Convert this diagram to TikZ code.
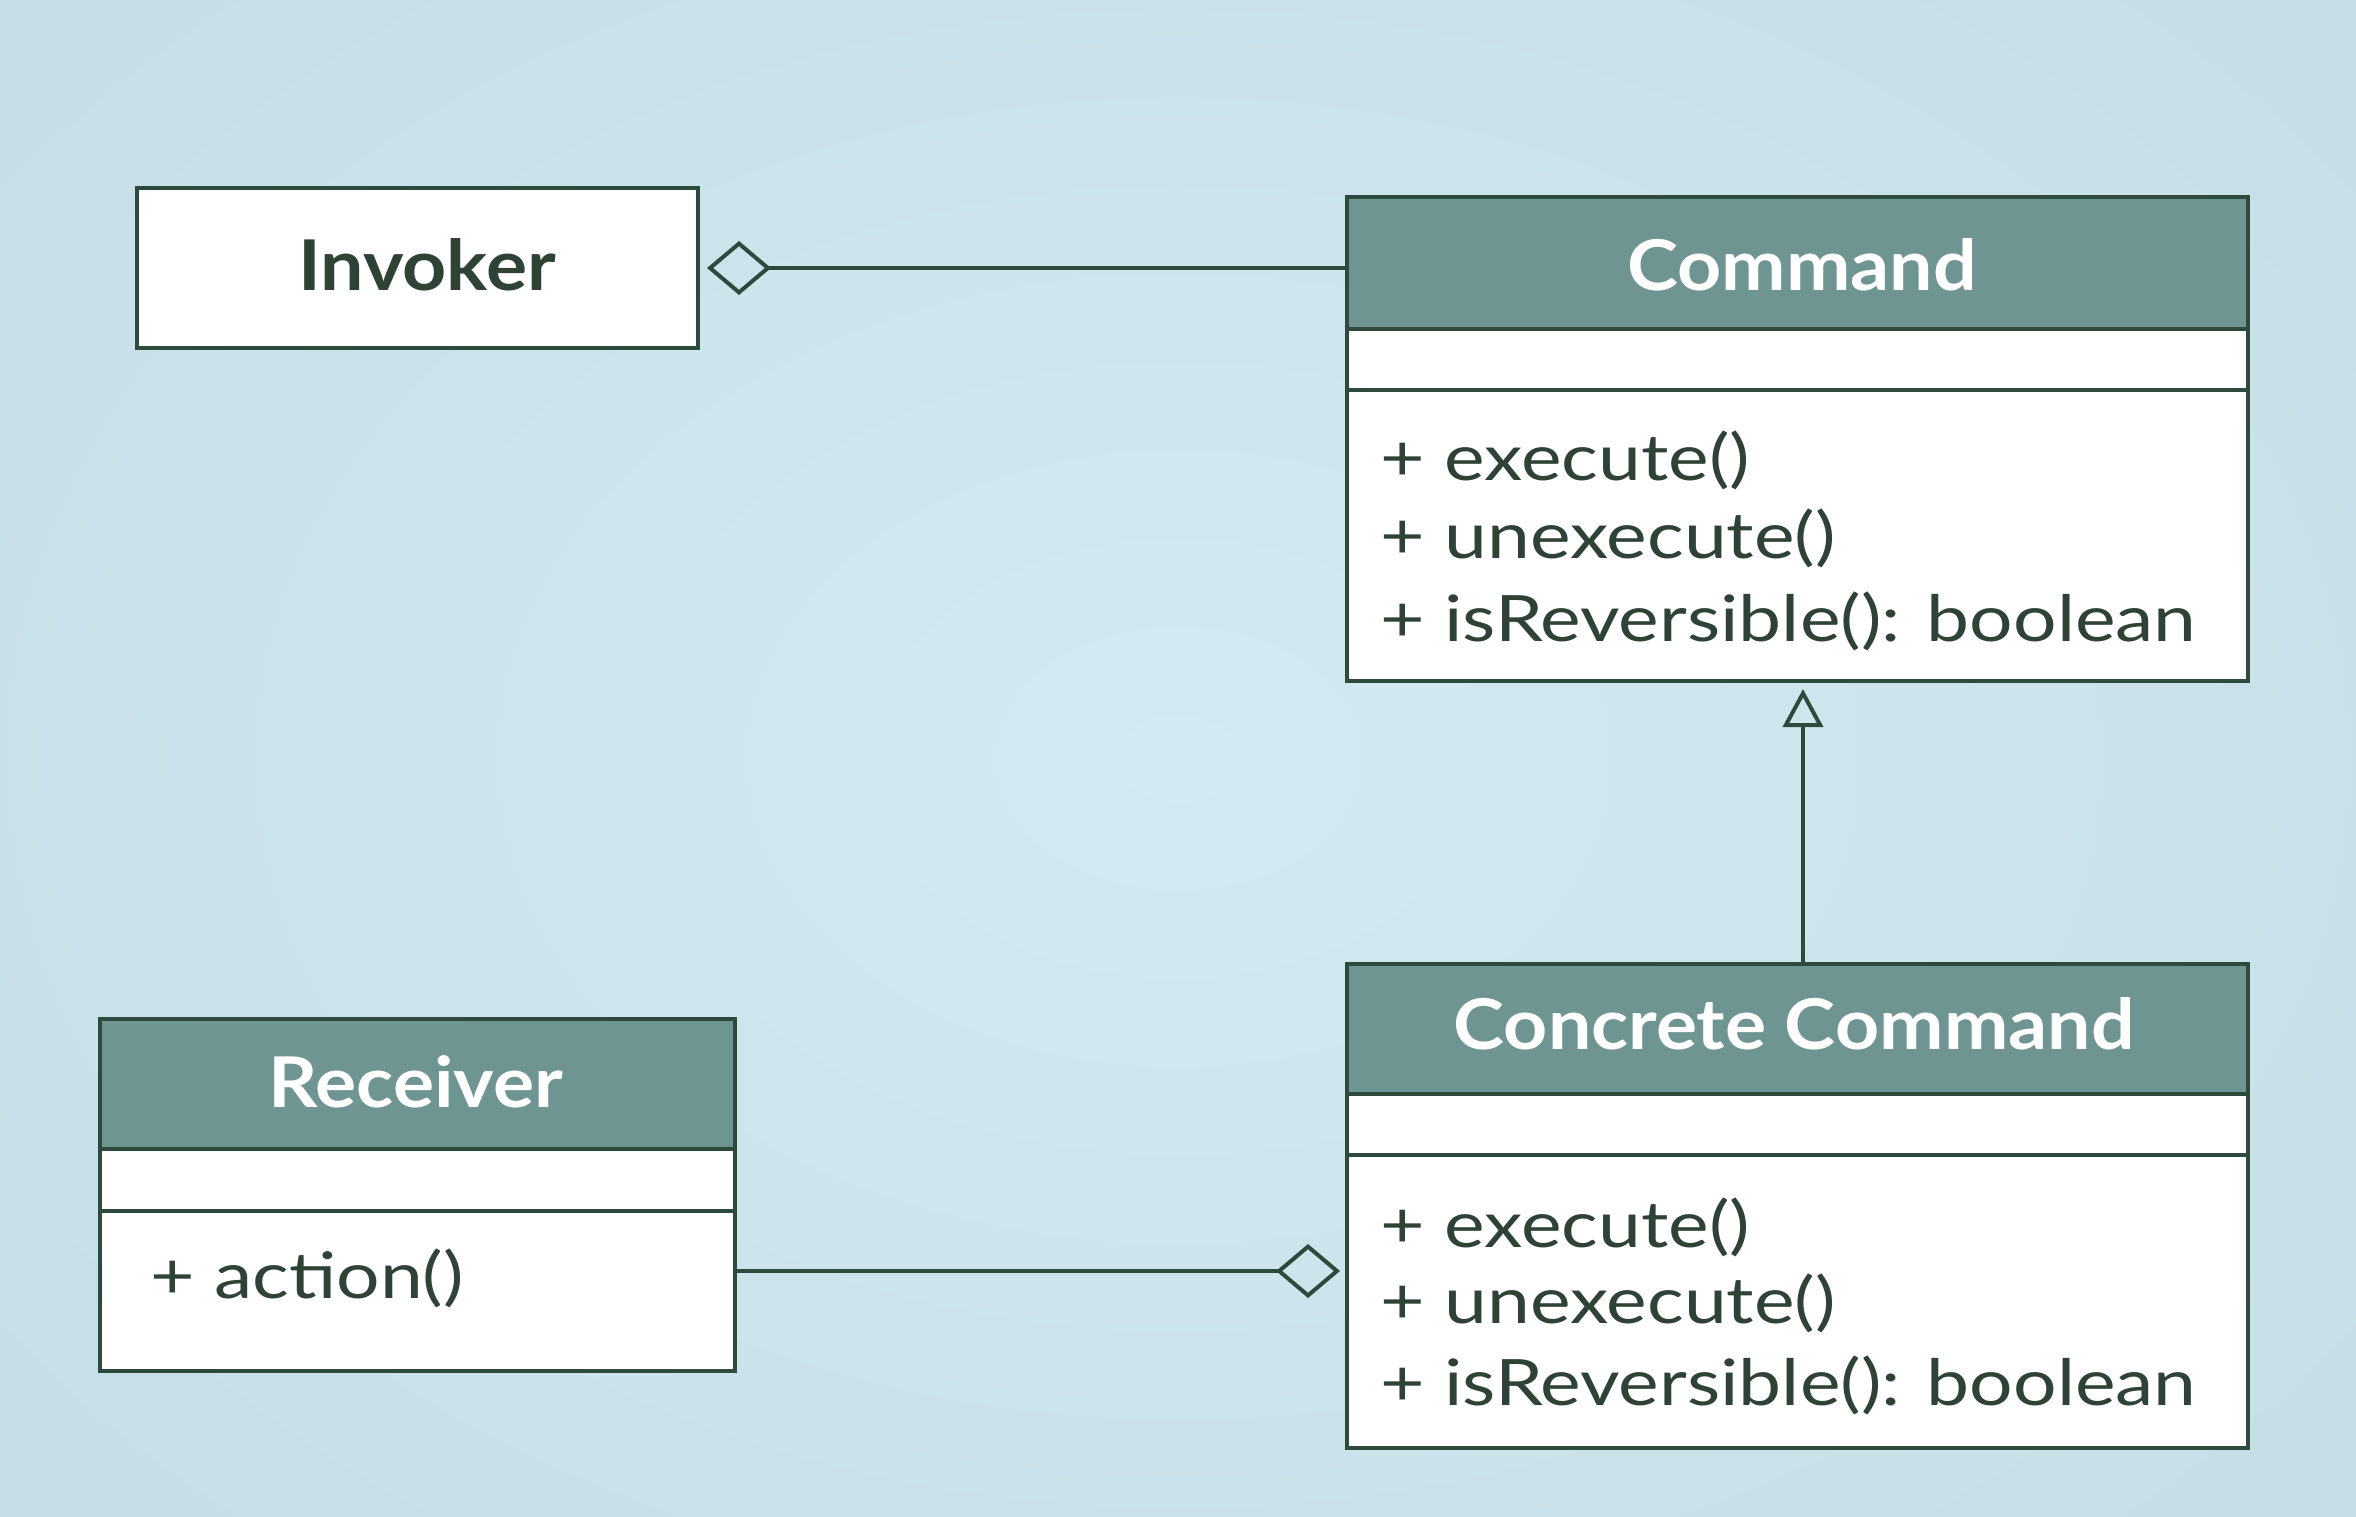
\documentclass[tikz,border=0pt]{standalone}
\usepackage{fontspec}
\setmainfont{Lato}
\newfontfamily\mfont[FakeStretch=1.2]{Lato}
\newfontfamily\tfont[FakeStretch=1.1]{Lato}
\usetikzlibrary{arrows.meta}
\definecolor{bgin}{HTML}{D4EAF2}
\definecolor{bgout}{HTML}{C6DEE7}
\definecolor{head}{HTML}{6F9593}
\definecolor{ink}{HTML}{2E4A3C}
\definecolor{txt}{HTML}{2F4236}
\tikzset{
  boxline/.style={draw=ink, line width=4pt},
  clsbox/.style={boxline, fill=white, inner sep=0pt, anchor=north west},
  headbox/.style={boxline, fill=head, inner sep=0pt, anchor=north west},
  ttl/.style={font=\tfont\bfseries\fontsize{70}{80}\selectfont, text=white, anchor=base, inner sep=0pt},
  ttldark/.style={ttl, text=txt},
  meth/.style={font=\mfont\fontsize{64}{80}\selectfont, text=txt, anchor=base west, inner sep=0pt},
  conn/.style={draw=ink, line width=4pt},
  aggr/.style={conn, {Diamond[open, length=64pt, width=54pt, line width=4pt]}-},
  gen/.style={conn, -{Triangle[open, length=38pt, width=40pt, line width=4pt]}},
}
\begin{document}
\begin{tikzpicture}[x=1pt, y=-1pt]
\useasboundingbox (0,0) rectangle (2356,1516);
\shade[inner color=bgin, outer color=bgout] (-300,-300) rectangle (2656,1816);

% Invoker
\node[clsbox, minimum width=561pt, minimum height=160pt] (inv) at (135,186) {};
\node[ttldark] (invt) at (427,290) {Invoker};

% Command
\node[clsbox, minimum width=901pt, minimum height=484pt] (cmd) at (1345,195) {};
\node[clsbox, minimum width=901pt, minimum height=61pt] (cmda) at (1345,327) {};
\node[headbox, minimum width=901pt, minimum height=132pt] (cmdh) at (1345,195) {};
\node[ttl] (cmdt) at (1802,290) {Command};
\node[meth] (cmd1) at (1380,480) {+ execute()};
\node[meth] (cmd2) at (1380,558) {+ unexecute()};
\node[meth] (cmd3) at (1380,641) {+ isReversible(): boolean};

% Concrete Command
\node[clsbox, minimum width=901pt, minimum height=484pt] (cc) at (1345,962) {};
\node[clsbox, minimum width=901pt, minimum height=61pt] (cca) at (1345,1092) {};
\node[headbox, minimum width=901pt, minimum height=130pt] (cch) at (1345,962) {};
\node[ttl] (cct) at (1794,1049) {Concrete Command};
\node[meth] (cc1) at (1380,1247) {+ execute()};
\node[meth] (cc2) at (1380,1323) {+ unexecute()};
\node[meth] (cc3) at (1380,1405) {+ isReversible(): boolean};

% Receiver
\node[clsbox, minimum width=635pt, minimum height=352pt] (rcv) at (98,1017) {};
\node[clsbox, minimum width=635pt, minimum height=62pt] (rcva) at (98,1147) {};
\node[headbox, minimum width=635pt, minimum height=130pt] (rcvh) at (98,1017) {};
\node[ttl] (rcvt) at (416,1107) {Receiver};
\node[meth] (rcv1) at (150,1298) {+ action()};

% connectors
\coordinate (invc) at (inv.east);
\draw[aggr] ([xshift=7pt]invc) -- (invc -| cmd.west);
\coordinate (rcvc) at (733,1271);
\draw[aggr] ([xshift=-5pt]rcvc -| cc.west) -- (rcvc);
\coordinate (genx) at (1803,0);
\draw[gen] (genx |- cc.north) -- ([yshift=-6pt]genx |- cmd.south);
\end{tikzpicture}
\end{document}
